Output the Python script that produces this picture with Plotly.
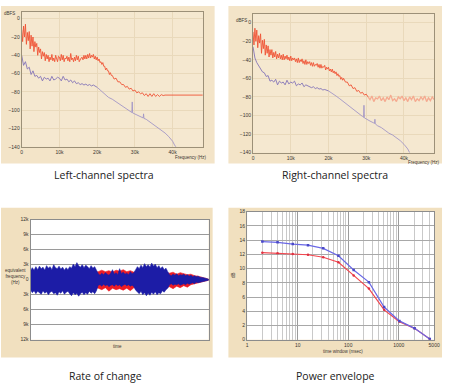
import plotly.graph_objects as go

# ---------------- data: spectra (kHz, dBFS) ----------------
L_red_f = [0, 0.25, 0.5, 0.75, 1, 1.25, 1.5, 1.75, 2, 2.25, 2.5, 2.75, 3, 3.25, 3.5, 3.75,
           4, 4.25, 4.5, 4.75, 5, 5.25, 5.5, 5.75, 6, 6.25, 6.5, 6.75, 7, 7.25, 7.5, 7.75,
           8, 8.25, 8.5, 8.75, 9, 9.25, 9.5, 9.75, 10, 10.25, 10.5, 10.75, 11, 11.25, 11.5, 11.75,
           12, 12.25, 12.5, 12.75, 13, 13.25, 13.5, 13.75, 14, 14.25, 14.5, 14.75, 15, 15.25, 15.5, 15.75,
           16, 16.25, 16.5, 16.75, 17, 17.25, 17.5, 17.75, 18, 18.25, 18.5, 18.75, 19, 19.25, 19.5, 19.75,
           20, 20.25, 20.5, 20.75, 21, 21.25, 21.5, 21.75, 22, 22.25, 22.5, 22.75, 23, 23.25, 23.5, 23.75,
           24, 24.5, 25, 25.5, 26, 26.5, 27, 27.5, 28, 28.5, 29, 29.5,
           30, 30.5, 31, 31.5, 32, 32.5, 33, 33.5, 34, 34.5, 35, 35.5, 36, 36.5, 37, 37.5, 38, 39, 48]
L_red_db = [-12, -25, -8, -20, -6, -28, -15, -24, -14, -33, -18, -30, -20, -36, -25, -31,
            -27, -40, -31, -37, -33, -44, -36, -41, -37, -46, -39, -44, -40, -47, -42, -45,
            -39, -46, -43, -47, -40, -44, -47, -41, -42, -46, -39, -45, -40, -47, -43, -44,
            -41, -46, -42, -47, -38, -45, -43, -47, -42, -46, -40, -45, -41, -47, -44, -43,
            -42, -45, -40, -44, -40, -44, -39, -43, -38, -43, -40, -42, -39, -44, -41, -45,
            -42, -46, -44, -48, -47, -50, -48, -52, -52, -56, -54, -57, -57, -61, -59, -62,
            -62, -66, -65, -69, -69, -72, -72, -75, -74, -77, -76, -79,
            -78, -81, -80, -82, -81, -84, -82, -85, -82, -85, -82, -85, -83, -85, -83, -84, -83.5, -83.5, -83.5]

L_pur_f = [0, 0.5, 1, 1.5, 2, 2.5, 3, 3.5, 4, 4.5, 5, 5.5, 6, 6.5, 7, 7.5, 8, 8.5, 9, 9.5,
           10, 10.5, 11, 11.5, 12, 12.5, 13, 13.5, 14, 14.5, 15, 15.5, 16, 16.5, 17, 17.5, 18, 18.5, 19, 19.5, 20]
L_pur_db = [-40, -51, -47, -55, -53, -61, -57, -63, -62, -65, -63, -68, -64, -66, -65, -68, -63, -67, -66, -64,
            -65, -68, -63, -67, -66, -69, -67, -70, -68, -71, -70, -72, -71, -72.5, -71.5, -73, -72, -73.5, -72.5, -74, -75]
L_pur2_f = [20, 21, 22, 23, 24, 25, 26, 27, 28, 29, 29.2, 29.3, 29.4, 30, 31, 32, 32.2, 32.3, 32.4,
            33, 34, 35, 36, 37, 38, 39, 40, 40.5, 41]
L_pur2_db = [-75, -79, -83, -86, -88, -91, -94, -97, -99, -102, -102.5, -91, -103, -104, -106, -108, -108.5, -104, -109,
             -110, -113, -116, -119, -122, -125, -129, -134, -138, -141]

R_red_f = [0, 0.25, 0.5, 0.75, 1, 1.25, 1.5, 1.75, 2, 2.25, 2.5, 2.75, 3, 3.25, 3.5, 3.75,
           4, 4.25, 4.5, 4.75, 5, 5.25, 5.5, 5.75, 6, 6.25, 6.5, 6.75, 7, 7.25, 7.5, 7.75,
           8, 8.25, 8.5, 8.75, 9, 9.25, 9.5, 9.75, 10, 10.25, 10.5, 10.75, 11, 11.25, 11.5, 11.75,
           12, 12.25, 12.5, 12.75, 13, 13.25, 13.5, 13.75, 14, 14.25, 14.5, 14.75, 15, 15.25, 15.5, 15.75,
           16, 16.25, 16.5, 16.75, 17, 17.25, 17.5, 17.75, 18, 18.25, 18.5, 18.75, 19, 19.25, 19.5, 19.75,
           20, 20.25, 20.5, 20.75, 21, 21.25, 21.5, 21.75, 22, 22.25, 22.5, 22.75, 23, 23.25, 23.5, 23.75,
           24, 24.5, 25, 25.5, 26, 26.5, 27, 27.5, 28, 28.5, 29, 29.5, 30, 30.5]
R_red_db = [-10, -24, -6, -20, -8, -27, -14, -22, -12, -33, -19, -28, -18, -35, -24, -33,
            -25, -37, -29, -35, -29, -38, -32, -37, -31, -39, -34, -38, -33, -39, -35, -40,
            -34, -40, -36, -39, -35, -40, -37, -41, -36, -41, -38, -40, -38, -42, -39, -43,
            -38, -43, -40, -42, -39, -44, -41, -45, -40, -45, -42, -44, -42, -46, -43, -47,
            -43, -47, -45, -46, -44, -48, -45, -49, -45, -49, -47, -48, -46, -51, -48, -50,
            -48, -52, -50, -53, -50, -54, -52, -55, -53, -57, -55, -58, -57, -61, -59, -62,
            -60, -64, -64, -68, -67, -71, -70, -74, -73, -76, -75, -78, -77, -80]
R_pink_f = [30.5, 31, 31.5, 32, 32.5, 33, 33.5, 34, 34.5, 35, 35.5, 36, 36.5, 37, 37.5, 38, 38.5, 39, 39.5,
            40, 40.5, 41, 41.5, 42, 42.5, 43, 43.5, 44, 44.5, 45, 45.5, 46, 46.5, 47, 47.5, 48]
R_pink_db = [-80, -83, -79, -85, -81, -82, -79, -84, -81, -85, -80, -83, -78, -84, -82, -85, -80, -82, -79,
             -84, -81, -85, -80, -83, -79, -85, -82, -84, -80, -83, -79, -85, -81, -84, -80, -83]

R_pur_f = [0, 0.5, 1, 1.5, 2, 2.5, 3, 3.5, 4, 4.5, 5, 5.5, 6, 6.5, 7, 7.5, 8, 8.5, 9, 9.5,
           10, 10.5, 11, 11.5, 12, 12.5, 13, 13.5, 14, 14.5, 15, 15.5, 16, 16.5, 17, 17.5, 18, 18.5, 19, 19.5, 20]
R_pur_db = [-26, -38, -43, -46, -49, -53, -54, -58, -57, -63, -62, -64, -61, -67, -63, -65, -64, -67, -62, -66,
            -64, -65, -63, -68, -66, -67, -65, -69, -67, -68, -68.5, -70, -69, -71, -70, -71.5, -71, -72.5, -72, -73, -73.5]
R_pur2_f = [20, 21, 22, 23, 24, 25, 26, 27, 28, 29, 29.3, 29.4, 29.5, 30, 31, 32, 32.2, 32.3, 32.4,
            33, 34, 35, 36, 37, 38, 39, 40, 41, 41.5]
R_pur2_db = [-73.5, -76, -79, -82, -85, -88, -91, -94, -97, -101, -102, -89, -102.5, -104, -106, -108, -108.5, -104, -109,
             -111, -113, -116, -119, -121, -124, -127, -131, -136, -140]

spec_ticks = [0, 10, 20, 30, 40]
spec_ticktext = ["0", "10k", "20k", "30k", "40k"]
db_ticks = [0, -20, -40, -60, -80, -100, -120, -140]

# ---------------- data: rate of change (time %, kHz) ----------------
t_blue = list(range(0, 101))
blue_up = [1.8, 2.4, 1.9, 2.6, 2.0, 2.7, 2.2, 2.5, 1.9, 2.8, 2.3, 2.6, 2.0, 3.0, 2.4, 2.2, 2.7, 2.1, 2.5, 1.9,
           2.4, 2.0, 2.6, 2.3, 3.1, 2.6, 3.4, 2.8, 2.5, 3.0, 2.4, 2.9, 2.6, 2.2, 2.8, 2.3, 2.6, 2.0,
           1.2, 0.9, 1.3, 1.0, 1.4, 1.1, 0.9, 1.3, 2.0, 1.1, 1.4, 1.0, 2.2, 1.2, 1.5, 1.1, 1.3, 1.0, 1.6, 1.2, 1.4,
           2.0, 2.6, 2.2, 2.9, 2.4, 3.2, 2.6, 3.0, 2.5, 3.3, 2.7, 3.1, 2.4, 2.8, 2.2, 2.6, 2.0, 2.3, 1.6,
           1.0, 0.8, 1.1, 0.9, 1.2, 0.8, 1.0, 0.9, 1.1, 0.8, 1.0, 0.7, 0.9, 0.6, 0.8, 0.6, 0.7, 0.5, 0.5, 0.4, 0.3, 0.2, 0.1]
blue_lo = [2.0, 2.6, 2.2, 2.8, 2.3, 2.5, 2.9, 2.2, 2.7, 2.4, 3.0, 2.5, 2.3, 2.8, 2.6, 3.1, 2.4, 2.7, 2.2, 2.9,
           2.5, 2.3, 2.8, 3.2, 2.6, 3.0, 2.7, 3.3, 2.8, 2.5, 3.0, 2.6, 2.9, 2.3, 2.7, 2.4, 2.8, 2.2,
           1.1, 1.0, 1.3, 0.9, 1.2, 1.0, 1.4, 1.1, 1.0, 1.3, 0.9, 1.2, 1.0, 1.4, 1.1, 0.9, 1.2, 1.0, 1.3, 1.1, 1.4,
           2.1, 2.5, 2.8, 2.3, 3.0, 2.6, 3.2, 2.7, 3.1, 2.5, 2.9, 2.4, 3.0, 2.6, 2.8, 2.2, 2.5, 2.0, 1.7,
           1.0, 0.8, 1.1, 0.9, 1.0, 0.8, 1.1, 0.9, 0.8, 1.0, 0.7, 0.9, 0.7, 0.6, 0.8, 0.5, 0.6, 0.5, 0.4, 0.3, 0.3, 0.2, 0.1]
t_red = list(range(0, 101, 2))
red_up = [1.5, 1.6, 1.4, 1.7, 1.5, 1.6, 1.4, 1.7, 1.5, 1.6, 1.4, 1.7, 1.5, 1.6, 1.5, 1.7, 1.5, 1.6, 1.5,
          1.6, 1.9, 1.6, 1.8, 1.5, 1.9, 1.7, 2.0, 1.6, 1.8, 1.5,
          1.6, 1.5, 1.7, 1.6, 1.5, 1.7, 1.5, 1.6, 1.4,
          1.3, 1.5, 1.1, 1.4, 1.2, 1.0, 1.1, 0.8, 0.7, 0.5, 0.3, 0.1]
red_lo = [1.6, 1.5, 1.7, 1.4, 1.6, 1.5, 1.7, 1.5, 1.6, 1.4, 1.7, 1.5, 1.6, 1.5, 1.7, 1.5, 1.6, 1.4, 1.6,
          1.7, 2.0, 1.6, 2.3, 1.7, 2.0, 1.8, 2.1, 1.7, 2.2, 1.6,
          1.7, 1.6, 1.5, 1.7, 1.6, 1.5, 1.7, 1.5, 1.6,
          1.4, 1.8, 1.3, 1.6, 1.2, 1.5, 1.0, 0.9, 0.7, 0.5, 0.3, 0.1]
roc_ticks = [12, 9, 6, 3, 0, -3, -6, -9, -12]
roc_ticktext = ["12k", "9k", "6k", "3k", "0", "3k", "6k", "9k", "12k"]

# ---------------- data: power envelope ----------------
win_ms = [2, 4, 8, 16, 32, 64, 128, 256, 512, 1024, 2048, 4096]
pe_blue = [13.8, 13.7, 13.45, 13.3, 12.85, 11.8, 9.8, 8.1, 4.6, 2.65, 1.6, 0.1]
pe_red = [12.25, 12.15, 12.05, 11.95, 11.6, 10.9, 9.05, 7.2, 4.2, 2.55, 1.6, 0.1]
pe_xticks = [1, 10, 100, 1000, 5000]
pe_minor = [2, 3, 4, 5, 6, 7, 8, 9, 20, 30, 40, 50, 60, 70, 80, 90,
            200, 300, 400, 500, 600, 700, 800, 900, 2000, 3000, 4000]
pe_yticks = [0, 2, 4, 6, 8, 10, 12, 14, 16, 18]

# ---------------- styles ----------------
W, H = 450, 390
TICKF = dict(family="Liberation Sans, Arial", size=5, color="#3a3530")
RED = "#ef5436"
PUR = "#8374b8"
PUR2 = "#a396c6"


def px(x):
    return x / W


def py(y):
    return 1 - y / H


fig = go.Figure()

# top-left spectra
fig.add_trace(go.Scatter(x=L_red_f, y=L_red_db, mode="lines", line=dict(color=RED, width=0.9), xaxis="x", yaxis="y"))
fig.add_trace(go.Scatter(x=L_pur_f, y=L_pur_db, mode="lines", line=dict(color=PUR, width=0.9), xaxis="x", yaxis="y"))
fig.add_trace(go.Scatter(x=L_pur2_f, y=L_pur2_db, mode="lines", line=dict(color=PUR2, width=0.9), xaxis="x", yaxis="y"))
# top-right spectra
fig.add_trace(go.Scatter(x=R_red_f, y=R_red_db, mode="lines", line=dict(color=RED, width=0.9), xaxis="x2", yaxis="y2"))
fig.add_trace(go.Scatter(x=R_pink_f, y=R_pink_db, mode="lines", line=dict(color="#f5aa90", width=1.3), xaxis="x2", yaxis="y2"))
fig.add_trace(go.Scatter(x=R_pur_f, y=R_pur_db, mode="lines", line=dict(color=PUR, width=0.9), xaxis="x2", yaxis="y2"))
fig.add_trace(go.Scatter(x=R_pur2_f, y=R_pur2_db, mode="lines", line=dict(color=PUR2, width=0.9), xaxis="x2", yaxis="y2"))

# rate of change: red then blue envelopes
fig.add_trace(go.Scatter(x=t_red + t_red[::-1], y=red_up + [-v for v in red_lo][::-1], mode="lines",
                         fill="toself", fillcolor="#ee1c24", line=dict(color="#ee1c24", width=0.6),
                         xaxis="x3", yaxis="y3"))
fig.add_trace(go.Scatter(x=t_blue + t_blue[::-1], y=blue_up + [-v for v in blue_lo][::-1], mode="lines",
                         fill="toself", fillcolor="#1c1ca6", line=dict(color="#1c1ca6", width=0.6),
                         xaxis="x3", yaxis="y3"))

# power envelope
fig.add_trace(go.Scatter(x=win_ms, y=pe_red, mode="lines+markers", line=dict(color="#f2474f", width=1.2),
                         marker=dict(size=2.5, color="#e03040"), xaxis="x4", yaxis="y4"))
fig.add_trace(go.Scatter(x=win_ms, y=pe_blue, mode="lines+markers", line=dict(color="#6a68e6", width=1.2),
                         marker=dict(size=2.5, color="#4a48c8", symbol="square"), xaxis="x4", yaxis="y4"))

frame_top = dict(showline=True, mirror=True, linecolor="#9c9078", linewidth=1, zeroline=False,
                 showgrid=True, gridcolor="#e9d9bb", gridwidth=1, tickfont=TICKF, ticks="")
frame_bot = dict(showline=True, mirror=True, linecolor="#8c8c8c", linewidth=1, zeroline=False,
                 tickfont=TICKF, ticks="")

layout = dict(
    width=W, height=H, autosize=False, showlegend=False,
    margin=dict(l=0, r=0, t=0, b=0),
    paper_bgcolor="white", plot_bgcolor="rgba(0,0,0,0)",
    xaxis=dict(domain=[px(21), px(205)], anchor="y", range=[0, 48], tickvals=spec_ticks, ticktext=spec_ticktext, **frame_top),
    yaxis=dict(domain=[py(146), py(9)], anchor="x", range=[-140, 7.5], tickvals=db_ticks, **frame_top),
    xaxis2=dict(domain=[px(256), px(440)], anchor="y2", range=[0, 48], tickvals=spec_ticks, ticktext=spec_ticktext, **frame_top),
    yaxis2=dict(domain=[py(152), py(11)], anchor="x2", range=[-140, 9.5], tickvals=db_ticks, **frame_top),
    xaxis3=dict(domain=[px(30), px(211)], anchor="y3", range=[0, 100], showticklabels=False, showgrid=False, **frame_bot),
    yaxis3=dict(domain=[py(342), py(220)], anchor="x3", range=[-12, 12], tickvals=roc_ticks, ticktext=roc_ticktext,
                showgrid=True, gridcolor="#9a9a9a", gridwidth=1, **frame_bot),
    xaxis4=dict(domain=[px(250), px(440)], anchor="y4", type="log", range=[0, 3.699], tickvals=pe_xticks,
                showgrid=True, gridcolor="#9c9c9c", gridwidth=1,
                minor=dict(tickvals=pe_minor, showgrid=True, gridcolor="#c9c9c9", gridwidth=1), **frame_bot),
    yaxis4=dict(domain=[py(342), py(212)], anchor="x4", range=[0, 18], tickvals=pe_yticks,
                showgrid=True, gridcolor="#a8a8a8", gridwidth=1, **frame_bot),
)
fig.update_layout(**layout)

# background panels and plot areas
shapes = []
for (x0, y0, x1, y1, c) in [(0, 3, 217, 163, "#f3e4c8"), (231, 3, 448, 163, "#f3e4c8"),
                            (0, 208, 215, 360, "#f1e0bf"), (231, 208, 448, 360, "#f1e0bf")]:
    shapes.append(dict(type="rect", xref="paper", yref="paper", x0=px(x0), x1=px(x1), y0=py(y1), y1=py(y0),
                       fillcolor=c, line=dict(width=0), layer="below"))
for (x0, y0, x1, y1, c) in [(21, 9, 205, 146, "#f5e8d0"), (256, 11, 440, 152, "#f5e8d0"),
                            (30, 220, 211, 342, "white"), (250, 212, 440, 342, "white")]:
    shapes.append(dict(type="rect", xref="paper", yref="paper", x0=px(x0), x1=px(x1), y0=py(y1), y1=py(y0),
                       fillcolor=c, line=dict(width=0), layer="below"))
fig.update_layout(shapes=shapes)

SMALL = dict(family="Liberation Sans, Arial", size=4.5, color="#3a3530")
CAP = dict(family="Open Sans", size=10.5, color="#222222")
ann = [
    dict(x=px(9), y=py(11), text="dBFS", font=SMALL),
    dict(x=px(244), y=py(18), text="dBFS", font=SMALL),
    dict(x=px(193), y=py(157), text="Frequency (Hz)", font=SMALL),
    dict(x=px(430), y=py(162), text="Frequency (Hz)", font=SMALL),
    dict(x=px(15), y=py(278), text="equivalent<br>frequency<br>(Hz)", font=SMALL),
    dict(x=px(118), y=py(349), text="time", font=SMALL),
    dict(x=px(347), y=py(354), text="time window (msec)", font=SMALL),
    dict(x=px(236), y=py(276), text="dB", font=SMALL, textangle=-90),
    dict(x=px(105), y=py(175), text="Left-channel spectra", font=CAP),
    dict(x=px(339), y=py(175), text="Right-channel spectra", font=CAP),
    dict(x=px(106), y=py(379), text="Rate of change", font=CAP),
    dict(x=px(340), y=py(379), text="Power envelope", font=CAP),
]
for a in ann:
    a.update(xref="paper", yref="paper", showarrow=False, xanchor="center", yanchor="middle")
fig.update_layout(annotations=ann)

fig.write_html("out.html", config={"displayModeBar": False},
               post_script="document.body.style.margin='0';document.body.style.overflow='hidden';")
